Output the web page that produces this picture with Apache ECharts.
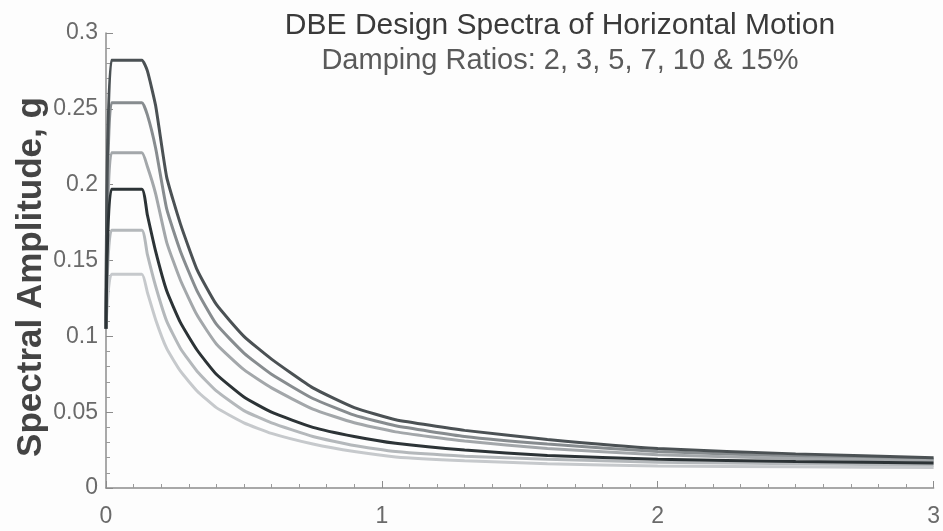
<!DOCTYPE html>
<html>
<head>
<meta charset="utf-8">
<script src="https://cdn.jsdelivr.net/npm/echarts@6/dist/echarts.min.js"></script>
<style>
  html, body { margin: 0; padding: 0; background: #fdfdfd; }
  #chart { width: 943px; height: 531px; }
</style>
</head>
<body>
<div id="chart"></div>
<script>
// Period (s)
const periods = [0, 0.02, 0.13, 0.15, 0.18, 0.22, 0.27, 0.33, 0.4, 0.5, 0.6, 0.75, 0.9, 1.05, 1.3, 1.6, 2.0, 2.5, 3.0];
// Spectral amplitude (g) per damping ratio
const damp2  = [0.105, 0.282, 0.282, 0.275, 0.252, 0.205, 0.174, 0.144, 0.121, 0.100, 0.085, 0.066, 0.053, 0.045, 0.038, 0.032, 0.026, 0.0225, 0.020];
const damp3  = [0.105, 0.254, 0.254, 0.246, 0.224, 0.184, 0.156, 0.130, 0.108, 0.089, 0.075, 0.059, 0.048, 0.041, 0.034, 0.029, 0.024, 0.021, 0.019];
const damp5  = [0.105, 0.221, 0.221, 0.212, 0.194, 0.162, 0.137, 0.114, 0.095, 0.078, 0.066, 0.052, 0.043, 0.037, 0.031, 0.026, 0.022, 0.0195, 0.018];
const damp7  = [0.105, 0.197, 0.197, 0.180, 0.156, 0.130, 0.109, 0.091, 0.075, 0.060, 0.050, 0.040, 0.034, 0.0295, 0.025, 0.0215, 0.019, 0.0175, 0.0165];
const damp10 = [0.105, 0.170, 0.170, 0.154, 0.133, 0.110, 0.092, 0.077, 0.064, 0.051, 0.043, 0.034, 0.028, 0.024, 0.021, 0.019, 0.017, 0.016, 0.015];
const damp15 = [0.105, 0.141, 0.141, 0.129, 0.111, 0.092, 0.077, 0.064, 0.053, 0.043, 0.036, 0.029, 0.024, 0.0205, 0.018, 0.016, 0.0145, 0.014, 0.0135];
const seriesNames = ['2%', '3%', '5%', '7%', '10%', '15%'];
const seriesValues = [damp2, damp3, damp5, damp7, damp10, damp15];
const seriesColors = ['#4b5154', '#878c8f', '#a3a7aa', '#2c3336', '#b4b8bb', '#c6c9cc'];
const xTicks = ['0', '1', '2', '3'];
const titleText = 'DBE Design Spectra of Horizontal Motion';
const subtitleText = 'Damping Ratios: 2, 3, 5, 7, 10 & 15%';
const yTitle = 'Spectral Amplitude, g';

const font = '"Liberation Sans Narrow", "Liberation Sans", Arial, sans-serif';

const chart = echarts.init(document.getElementById('chart'), null, { renderer: 'canvas' });

const series = seriesNames.map((n, i) => ({
  name: n,
  type: 'line',
  data: periods.map((t, j) => [t, seriesValues[i][j]]),
  showSymbol: false,
  smooth: 0.15,
  lineStyle: { color: seriesColors[i], width: 3 },
  z: i === 0 || i === 3 ? 3 : 2
}));
series.sort((a, b) => a.z - b.z);

chart.setOption({
  backgroundColor: '#fdfdfd',
  animation: false,
  title: [
    { text: titleText, left: 555, top: 6, textAlign: 'center',
      textStyle: { fontFamily: font, fontSize: 30, fontWeight: 'normal', color: '#3a3a3a' } },
    { text: subtitleText, left: 555, top: 41, textAlign: 'center',
      textStyle: { fontFamily: font, fontSize: 29, fontWeight: 'normal', color: '#5a5a5a' } }
  ],
  graphic: [{
    type: 'text', x: 31, y: 277, rotation: Math.PI / 2,
    style: { text: yTitle, fontFamily: '"Liberation Sans", Arial, sans-serif', fontSize: 35,
      fontWeight: 'bold', fill: '#444', align: 'center', verticalAlign: 'middle' }
  }],
  grid: { left: 106, right: 8, top: 33, bottom: 43, containLabel: false },
  xAxis: {
    type: 'value', min: 0, max: 3, interval: 1,
    axisLine: { show: true, lineStyle: { color: '#8c8c8c', width: 1.5 } },
    axisTick: { show: true, inside: true, length: 7, lineStyle: { color: '#8c8c8c' } },
    minorTick: { show: true, splitNumber: 10, length: 4, lineStyle: { color: '#9a9a9a' } },
    axisLabel: { fontFamily: font, fontSize: 23, color: '#6a6a6a', margin: 17,
      formatter: v => xTicks[Math.round(v)] },
    splitLine: { show: false }
  },
  yAxis: {
    type: 'value', min: 0, max: 0.3, interval: 0.05,
    axisLine: { show: true, lineStyle: { color: '#8c8c8c', width: 1.5 } },
    axisTick: { show: true, inside: true, length: 7, lineStyle: { color: '#8c8c8c' } },
    minorTick: { show: true, splitNumber: 5, length: 4, lineStyle: { color: '#9a9a9a' } },
    axisLabel: { fontFamily: font, fontSize: 23, color: '#6a6a6a', margin: 8 },
    splitLine: { show: false }
  },
  series: series
});
</script>
</body>
</html>
